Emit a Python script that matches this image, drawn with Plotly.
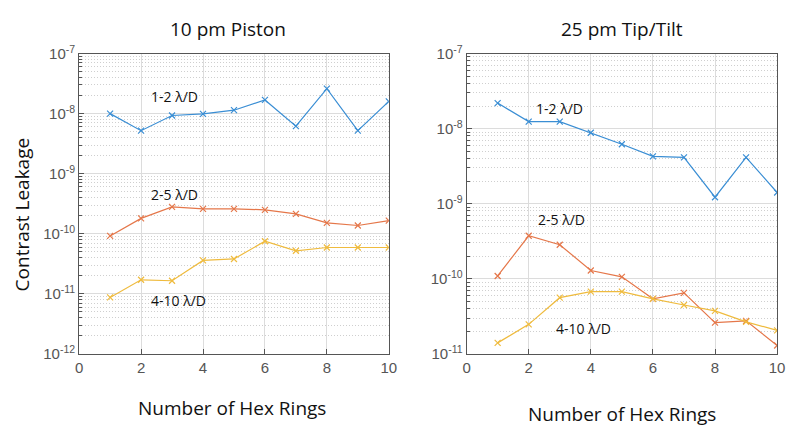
import numpy as np
import plotly.graph_objects as go

# Number of hex rings (x values)
rings = [1, 2, 3, 4, 5, 6, 7, 8, 9, 10]

# 10 pm piston: contrast leakage per annulus
piston_1_2 = [1.0e-8, 5.2e-9, 9.3e-9, 9.9e-9, 1.14e-8, 1.69e-8, 6.2e-9, 2.6e-8, 5.2e-9, 1.6e-8]
piston_2_5 = [9.2e-11, 1.8e-10, 2.8e-10, 2.6e-10, 2.6e-10, 2.5e-10, 2.14e-10, 1.52e-10, 1.37e-10, 1.65e-10]
piston_4_10 = [8.7e-12, 1.71e-11, 1.65e-11, 3.6e-11, 3.8e-11, 7.5e-11, 5.2e-11, 5.9e-11, 5.9e-11, 5.9e-11]

# 25 pm tip/tilt: contrast leakage per annulus
tilt_1_2 = [2.19e-8, 1.24e-8, 1.24e-8, 8.8e-9, 6.2e-9, 4.27e-9, 4.14e-9, 1.22e-9, 4.14e-9, 1.41e-9]
tilt_2_5 = [1.09e-10, 3.74e-10, 2.84e-10, 1.29e-10, 1.06e-10, 5.4e-11, 6.5e-11, 2.6e-11, 2.75e-11, 1.29e-11]
tilt_4_10 = [1.40e-11, 2.47e-11, 5.6e-11, 6.75e-11, 6.75e-11, 5.4e-11, 4.47e-11, 3.74e-11, 2.67e-11, 2.05e-11]

series_names = ["1-2 λ/D", "2-5 λ/D", "4-10 λ/D"]
colors = ["#3a8ed4", "#e5774a", "#efbb3e"]

left_exps = [-12, -11, -10, -9, -8, -7]
right_exps = [-11, -10, -9, -8, -7]
x_ticks = [0, 2, 4, 6, 8, 10]

W, H = 793, 435
TEXT_FONT = "Open Sans"
TICK_FONT = "Liberation Sans"
AXIS_GRAY = "#555555"


def px_x(p):
    return p / W


def px_y(p):
    return 1 - p / H


fig = go.Figure()

panels = [
    ("x", "y", [piston_1_2, piston_2_5, piston_4_10]),
    ("x2", "y2", [tilt_1_2, tilt_2_5, tilt_4_10]),
]
for xa, ya, data in panels:
    for name, vals, col in zip(series_names, data, colors):
        fig.add_trace(go.Scatter(
            x=rings, y=vals, xaxis=xa, yaxis=ya, name=name,
            mode="lines+markers",
            line=dict(color=col, width=1.2),
            marker=dict(symbol="x-thin", size=6, line=dict(color=col, width=1.2)),
            showlegend=False,
        ))


def minor_vals(exps):
    return [m * 10.0 ** e for e in exps[:-1] for m in range(2, 10)]


def y_axis(exps, domain, anchor):
    return dict(
        type="log", domain=domain, anchor=anchor,
        range=[exps[0], exps[-1]],
        tickvals=[10.0 ** e for e in exps],
        ticktext=[f"10<sup>{e}</sup>" for e in exps],
        tickfont=dict(family=TICK_FONT, size=15, color=AXIS_GRAY),
        ticks="inside", ticklen=5, tickcolor=AXIS_GRAY,
        showline=True, linecolor=AXIS_GRAY, linewidth=1, mirror=True,
        showgrid=True, gridcolor="#dcdcdc", gridwidth=1,
        minor=dict(tickvals=minor_vals(exps), ticks="inside", ticklen=3,
                   tickcolor=AXIS_GRAY, showgrid=True, gridcolor="#cfcfcf",
                   griddash="1px,2px", gridwidth=1),
        zeroline=False,
    )


def x_axis(domain, anchor):
    return dict(
        domain=domain, anchor=anchor, range=[0, 10],
        tickvals=x_ticks, ticktext=[str(t) for t in x_ticks],
        tickfont=dict(family=TICK_FONT, size=15, color=AXIS_GRAY),
        ticks="inside", ticklen=5, tickcolor=AXIS_GRAY,
        showline=True, linecolor=AXIS_GRAY, linewidth=1, mirror=True,
        showgrid=True, gridcolor="#dcdcdc", gridwidth=1, zeroline=False,
    )


ydom = [px_y(358.5), px_y(44.5)]
fig.update_layout(
    width=W, height=H,
    margin=dict(l=0, r=0, t=0, b=0),
    paper_bgcolor="white", plot_bgcolor="white",
    xaxis=x_axis([px_x(76.3), px_x(390.7)], "y"),
    yaxis=y_axis(left_exps, ydom, "x"),
    xaxis2=x_axis([px_x(469.7), px_x(785)], "y2"),
    yaxis2=y_axis(right_exps, ydom, "x2"),
)

annotations = [
    # panel titles
    dict(text="10 pm Piston", x=px_x(227), y=px_y(19), size=19),
    dict(text="25 pm Tip/Tilt", x=px_x(627), y=px_y(19), size=19),
    # axis titles
    dict(text="Number of Hex Rings", x=px_x(231), y=px_y(415), size=19),
    dict(text="Number of Hex Rings", x=px_x(628), y=px_y(421), size=19),
    dict(text="Contrast Leakage", x=px_x(18), y=px_y(213), size=19, angle=-90),
    # series labels, left panel
    dict(text="1-2 λ/D", x=px_x(173), y=px_y(89), size=14),
    dict(text="2-5 λ/D", x=px_x(173), y=px_y(192), size=14),
    dict(text="4-10 λ/D", x=px_x(177), y=px_y(303), size=14),
    # series labels, right panel
    dict(text="1-2 λ/D", x=px_x(564), y=px_y(102), size=14),
    dict(text="2-5 λ/D", x=px_x(566), y=px_y(218), size=14),
    dict(text="4-10 λ/D", x=px_x(588), y=px_y(332), size=14),
]
for a in annotations:
    fig.add_annotation(
        text=a["text"], x=a["x"], y=a["y"], xref="paper", yref="paper",
        xanchor="center", yanchor="middle", showarrow=False,
        textangle=a.get("angle", 0),
        font=dict(family=TEXT_FONT, size=a["size"], color="#111111"),
    )

fig.write_html("out.html")
